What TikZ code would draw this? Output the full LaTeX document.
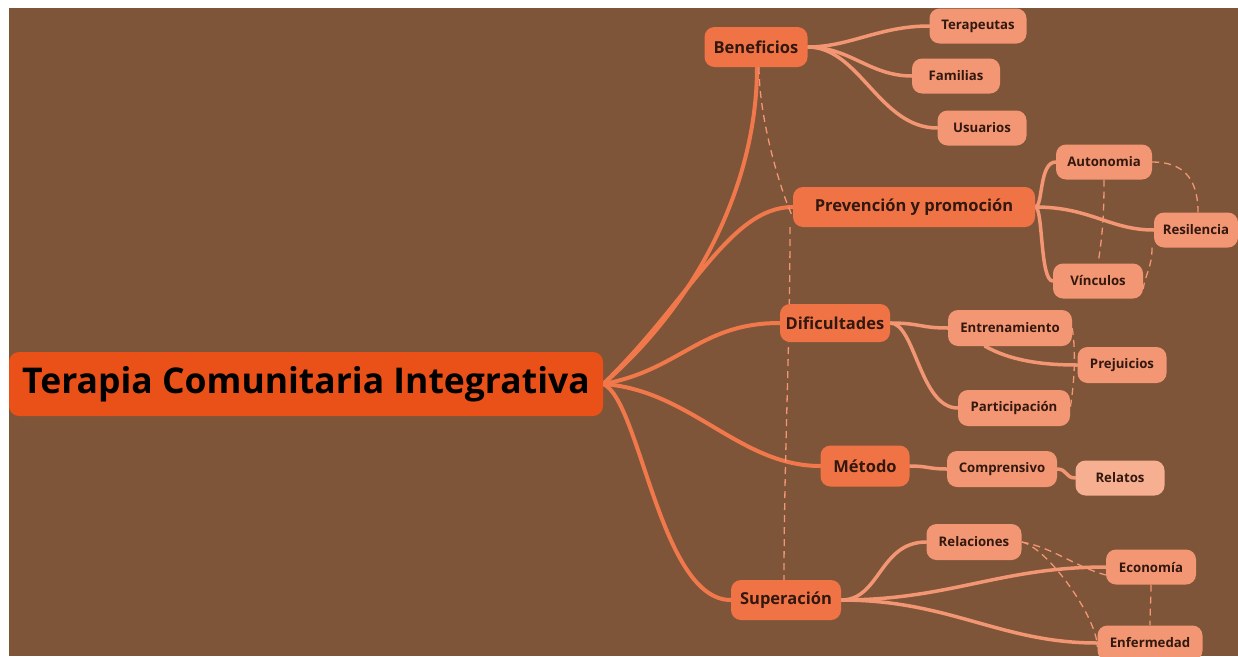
\documentclass[tikz,border=0pt]{standalone}
\usepackage{fontspec}
\setmainfont{Open Sans}
\usetikzlibrary{calc}
\pgfdeclarelayer{back}
\pgfdeclarelayer{edges}
\pgfsetlayers{back,edges,main}
\definecolor{bg}{RGB}{127,85,58}
\definecolor{rootc}{RGB}{234,81,24}
\definecolor{mainc}{RGB}{240,115,70}
\definecolor{subc}{RGB}{242,150,115}
\definecolor{lightc}{RGB}{246,175,145}
\definecolor{txt}{RGB}{50,24,14}
\definecolor{mainline}{RGB}{240,120,75}
\definecolor{subline}{RGB}{242,150,115}
\tikzset{
  x=1pt,y=-1pt,
  rootbox/.style={fill=rootc,rounded corners=10pt,text=black,font=\bfseries\fontsize{35.5}{40}\selectfont,minimum width=594pt,minimum height=64pt,inner sep=0pt},
  mainbox/.style={fill=mainc,rounded corners=10pt,text=txt,font=\bfseries\fontsize{16.5}{20}\selectfont,minimum height=40pt,inner sep=0pt},
  subbox/.style={fill=subc,rounded corners=10pt,text=txt,font=\bfseries\fontsize{13.2}{16}\selectfont,minimum height=35pt,inner sep=0pt},
  lightbox/.style={subbox,fill=lightc},
  rootline/.style={draw=mainline,line width=4pt,line cap=round},
  subline/.style={draw=subline,line width=3.5pt,line cap=round},
  relline/.style={draw=subc,line width=1.3pt,dash pattern=on 7pt off 5pt}
}
\begin{document}
\begin{tikzpicture}
\useasboundingbox (0,0) rectangle (1238,656);
\begin{pgfonlayer}{back}
\fill[white] (0,0) rectangle (1238,656);
\fill[bg] (9,8) rectangle (1238,656);
\end{pgfonlayer}
\node[rootbox] (root) at (306,384) {Terapia Comunitaria Integrativa};
\node[mainbox,minimum width=103pt] (ben) at (756,47) {Beneficios};
\node[subbox,minimum width=97pt] (ter) at (978,26) {Terapeutas};
\node[subbox,minimum width=88pt] (fam) at (956,76) {Familias};
\node[subbox,minimum width=89pt] (usu) at (982,128) {Usuarios};
\node[mainbox,minimum width=242pt] (prev) at (914,207) {Prevención y promoción};
\node[subbox,minimum width=96pt] (aut) at (1104,162) {Autonomia};
\node[subbox,minimum width=84pt] (res) at (1196,230) {Resilencia};
\node[subbox,minimum width=90pt] (vin) at (1098,281) {Vínculos};
\node[mainbox,minimum width=110pt,minimum height=38pt] (dif) at (835,323) {Dificultades};
\node[subbox,minimum width=124pt,minimum height=36pt] (ent) at (1010,328) {Entrenamiento};
\node[subbox,minimum width=89pt,minimum height=36pt] (prej) at (1122,365) {Prejuicios};
\node[subbox,minimum width=112pt,minimum height=36pt] (par) at (1014,408) {Participación};
\node[mainbox,minimum width=89pt,minimum height=41pt] (met) at (865,466) {Método};
\node[subbox,minimum width=110pt,minimum height=36pt] (com) at (1002,469) {Comprensivo};
\node[lightbox,minimum width=89pt] (rel) at (1120,478) {Relatos};
\node[mainbox,minimum width=110pt] (sup) at (786,600) {Superación};
\node[subbox,minimum width=95pt,minimum height=36pt] (rela) at (974,542) {Relaciones};
\node[subbox,minimum width=90pt] (eco) at (1151,567) {Economía};
\node[subbox,minimum width=105pt] (enf) at (1150,643) {Enfermedad};
\begin{pgfonlayer}{edges}
% root branches
\draw[rootline] (root.east) .. controls +(97,-84) and +(0,113) .. ([xshift=1pt]ben.south);
\draw[rootline] (root.east) .. controls +(87,-84) and +(-63,0) .. (prev.west);
\draw[rootline] (root.east) .. controls +(77,-14) and +(-80,0) .. (dif.west);
\draw[rootline] (root.east) .. controls +(87,6) and +(-81,0) .. (met.west);
\draw[rootline] (root.east) .. controls +(37,16) and +(-71,0) .. (sup.west);
% Beneficios
\draw[subline] (ben.east) .. controls +(42,0) and +(-50,0) .. (ter.west);
\draw[subline] (ben.east) .. controls +(42,0) and +(-42,0) .. (fam.west);
\draw[subline] (ben.east) .. controls +(52,0) and +(-58,0) .. (usu.west);
% Prevencion
\draw[subline] (prev.east) .. controls +(8,0) and +(-17,0) .. (aut.west);
\draw[subline] (prev.east) .. controls +(55,0) and +(-44,0) .. (res.west);
\draw[subline] (prev.east) .. controls +(8,0) and +(-13,0) .. (vin.west);
% Dificultades
\draw[subline] (dif.east) .. controls +(30,0) and +(-28,0) .. (ent.west);
\draw[subline] (dif.east) .. controls +(25,0) and +(-38,0) .. (par.west);
\draw[subline] ([xshift=-25pt]ent.south) .. controls +(25,14) and +(-37,0) .. (prej.west);
% Metodo
\draw[subline] (met.east) .. controls +(18,0) and +(-18,0) .. (com.west);
\draw[subline] (com.east) .. controls +(10,0) and +(-10,0) .. (rel.west);
% Superacion
\draw[subline] (sup.east) .. controls +(39,0) and +(-47,0) .. (rela.west);
\draw[subline] (sup.east) .. controls +(109,0) and +(-106,0) .. (eco.west);
\draw[subline] (sup.east) .. controls +(109,0) and +(-97,0) .. (enf.west);
% relations (dashed)
\draw[relline] ([xshift=3pt]ben.south) .. controls +(0,55) and +(-10,-20) .. ([yshift=-10pt]prev.west);
\draw[relline] ([xshift=-124pt]prev.south) .. controls +(0,120) and +(0,-120) .. ([xshift=-2pt]sup.north);
\draw[relline] (aut.south) .. controls +(0,30) and +(5,-30) .. (vin.north);
\draw[relline] (aut.east) .. controls +(30,0) and +(0,-35) .. ([xshift=2pt]res.north);
\draw[relline] ([xshift=-44pt]res.south) .. controls +(0,20) and +(2,-15) .. ([yshift=-8pt]vin.east);
\draw[relline] (ent.east) .. controls +(4,25) and +(4,-25) .. (par.east);
\draw[relline] (rela.east) .. controls +(30,5) and +(-30,-8) .. ([yshift=-8pt]eco.west);
\draw[relline] (rela.east) .. controls +(25,5) and +(0,-30) .. ([yshift=-4pt]enf.west);
\draw[relline] (eco.south) .. controls +(0,15) and +(0,-15) .. (enf.north);
\end{pgfonlayer}
\end{tikzpicture}
\end{document}
